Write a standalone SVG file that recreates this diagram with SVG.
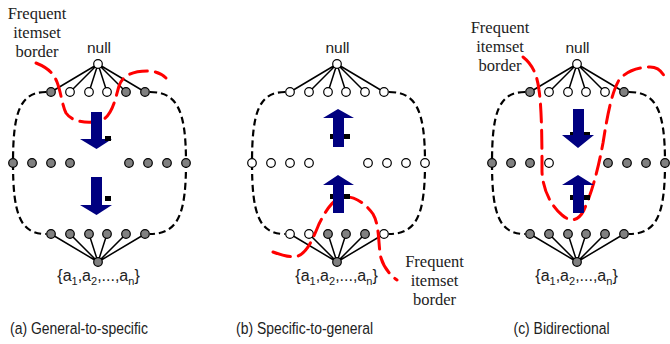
<svg xmlns="http://www.w3.org/2000/svg" width="670" height="344" viewBox="0 0 670 344">
<defs>
<style>
.edge{stroke:#000;stroke-width:1.5;fill:none}
.hull{stroke:#000;stroke-width:2.2;fill:none;stroke-dasharray:7 4}
.border{stroke:#f00;stroke-width:3;fill:none;stroke-dasharray:18 8;stroke-linecap:round}
.g{fill:#808080;stroke:#000;stroke-width:1.2}
.w{fill:#fff;stroke:#000;stroke-width:1.2}
.arrow{fill:#000080}
.bar{fill:#000}
.sans{font-family:"Liberation Sans",Arial,sans-serif;fill:#222;text-anchor:middle}
.cap{font-family:"Liberation Sans",Arial,sans-serif;fill:#222;text-anchor:middle;font-size:17px}
.serif{font-family:"Liberation Serif","Times New Roman",serif;font-size:16.5px;fill:#222;text-anchor:middle}
</style>
</defs>
<rect width="670" height="344" fill="#fff"/>

<!-- Panel (a) -->
<g id="panel-a">
<g id="a-connectors">
<path class="edge" d="M98,64 L51,92 M98,64 L70,92 M98,64 L89,92 M98,64 L107,92 M98,64 L126,92 M98,64 L145,92"/>
<path class="edge" d="M98,262 L51,234 M98,262 L70,234 M98,262 L89,234 M98,262 L107,234 M98,262 L126,234 M98,262 L145,234"/>
<path class="hull" d="M46,92 C20,92 13,112 13,163 C13,214 20,234 46,234"/>
<path class="hull" d="M150,92 C178,92 186,112 186,163 C186,214 178,234 150,234"/>
</g>
<g id="a-null"><circle class="w" cx="98" cy="64" r="4.3"/></g>
<g id="a-top">
<circle class="g" cx="51" cy="92" r="4.3"/><circle class="w" cx="70" cy="92" r="4.3"/><circle class="w" cx="89" cy="92" r="4.3"/><circle class="w" cx="107" cy="92" r="4.3"/><circle class="g" cx="126" cy="92" r="4.3"/><circle class="g" cx="145" cy="92" r="4.3"/>
</g>
<g id="a-mid">
<circle class="g" cx="13" cy="163" r="4.3"/><circle class="g" cx="32" cy="163" r="4.3"/><circle class="g" cx="51" cy="163" r="4.3"/><circle class="g" cx="70" cy="163" r="4.3"/>
<circle class="g" cx="129" cy="163" r="4.3"/><circle class="g" cx="148" cy="163" r="4.3"/><circle class="g" cx="167" cy="163" r="4.3"/><circle class="g" cx="186" cy="163" r="4.3"/>
</g>
<g id="a-bottom">
<circle class="g" cx="51" cy="234" r="4.3"/><circle class="g" cx="70" cy="234" r="4.3"/><circle class="g" cx="89" cy="234" r="4.3"/><circle class="g" cx="107" cy="234" r="4.3"/><circle class="g" cx="126" cy="234" r="4.3"/><circle class="g" cx="145" cy="234" r="4.3"/>
</g>
<g id="a-root"><circle class="g" cx="98" cy="262" r="4.3"/></g>
<g id="a-border"><path class="border" d="M36,63 C46,67 53,72 57,82 C61,92 62,105 66,113 C72,122 88,124 100,121 C112,117 115,100 119,86 C123,74 135,71 148,71 C156,71 162,74 166,78"/></g>
<g id="a-arrows">
<rect class="arrow" x="91" y="112" width="11" height="27"/><polygon class="arrow" points="80,139 112,139 96.5,149"/>
<rect class="bar" x="105" y="136" width="6" height="5"/>
<rect class="arrow" x="91" y="177" width="11" height="28"/><polygon class="arrow" points="80,205 112,205 96.5,215"/>
<rect class="bar" x="105" y="196" width="6" height="5"/>
</g>
<g id="a-labels">
<text class="serif" x="37" y="19">Frequent</text>
<text class="serif" x="37" y="38">itemset</text>
<text class="serif" x="37" y="57">border</text>
<text class="sans" x="99" y="53" font-size="15.5">null</text>
<text class="sans" x="98.5" y="281" font-size="16">{a<tspan font-size="11" dy="4">1</tspan><tspan dy="-4">,a</tspan><tspan font-size="11" dy="4">2</tspan><tspan dy="-4">,...,a</tspan><tspan font-size="11" dy="4">n</tspan><tspan dy="-4">}</tspan></text>
<text class="cap" transform="translate(79,334) scale(0.82,1)">(a) General-to-specific</text>
</g>
</g>

<!-- Panel (b) -->
<g id="panel-b">
<g id="b-connectors">
<path class="edge" d="M337,64 L290,92 M337,64 L309,92 M337,64 L328,92 M337,64 L346,92 M337,64 L365,92 M337,64 L384,92"/>
<path class="edge" d="M337,262 L290,234 M337,262 L309,234 M337,262 L328,234 M337,262 L346,234 M337,262 L365,234 M337,262 L384,234"/>
<path class="hull" d="M285,92 C259,92 252,112 252,163 C252,214 259,234 285,234"/>
<path class="hull" d="M389,92 C417,92 425,112 425,163 C425,214 417,234 389,234"/>
</g>
<g id="b-null"><circle class="w" cx="337" cy="64" r="4.3"/></g>
<g id="b-top">
<circle class="w" cx="290" cy="92" r="4.3"/><circle class="w" cx="309" cy="92" r="4.3"/><circle class="w" cx="328" cy="92" r="4.3"/><circle class="w" cx="346" cy="92" r="4.3"/><circle class="w" cx="365" cy="92" r="4.3"/><circle class="w" cx="384" cy="92" r="4.3"/>
</g>
<g id="b-mid">
<circle class="w" cx="252" cy="163" r="4.3"/><circle class="w" cx="271" cy="163" r="4.3"/><circle class="w" cx="290" cy="163" r="4.3"/><circle class="w" cx="309" cy="163" r="4.3"/>
<circle class="w" cx="368" cy="163" r="4.3"/><circle class="w" cx="387" cy="163" r="4.3"/><circle class="w" cx="406" cy="163" r="4.3"/><circle class="w" cx="425" cy="163" r="4.3"/>
</g>
<g id="b-bottom">
<circle class="w" cx="290" cy="234" r="4.3"/><circle class="w" cx="309" cy="234" r="4.3"/><circle class="g" cx="328" cy="234" r="4.3"/><circle class="g" cx="346" cy="234" r="4.3"/><circle class="g" cx="365" cy="234" r="4.3"/><circle class="w" cx="384" cy="234" r="4.3"/>
</g>
<g id="b-root"><circle class="g" cx="337" cy="262" r="4.3"/></g>
<g id="b-border"><path class="border" d="M273,252 C281,255 290,258 298,256 C308,252 314,236 319,224 C325,212 332,200 342,197 C354,195 366,204 373,214 C380,226 378,246 381,258 C384,268 391,276 397,280"/></g>
<g id="b-arrows">
<rect class="bar" x="330" y="134" width="20" height="5"/>
<polygon class="arrow" points="338,109 354,118 344,118 344,147 333,147 333,118 323,118"/>
<rect class="bar" x="330" y="194" width="20" height="5"/>
<polygon class="arrow" points="338,175 354,185 344,185 344,213 333,213 333,185 323,185"/>
</g>
<g id="b-labels">
<text class="sans" x="337.5" y="53" font-size="15.5">null</text>
<text class="sans" x="336.5" y="281" font-size="16">{a<tspan font-size="11" dy="4">1</tspan><tspan dy="-4">,a</tspan><tspan font-size="11" dy="4">2</tspan><tspan dy="-4">,...,a</tspan><tspan font-size="11" dy="4">n</tspan><tspan dy="-4">}</tspan></text>
<text class="serif" x="434.5" y="267">Frequent</text>
<text class="serif" x="434.5" y="286">itemset</text>
<text class="serif" x="434.5" y="305">border</text>
<text class="cap" transform="translate(304.5,334) scale(0.82,1)">(b) Specific-to-general</text>
</g>
</g>

<!-- Panel (c) -->
<g id="panel-c">
<g id="c-connectors">
<path class="edge" d="M577,64 L530,92 M577,64 L549,92 M577,64 L568,92 M577,64 L586,92 M577,64 L605,92 M577,64 L624,92"/>
<path class="edge" d="M577,262 L530,234 M577,262 L549,234 M577,262 L568,234 M577,262 L586,234 M577,262 L605,234 M577,262 L624,234"/>
<path class="hull" d="M525,92 C499,92 492,112 492,163 C492,214 499,234 525,234"/>
<path class="hull" d="M629,92 C657,92 665,112 665,163 C665,214 657,234 629,234"/>
</g>
<g id="c-null"><circle class="w" cx="577" cy="64" r="4.3"/></g>
<g id="c-top">
<circle class="g" cx="530" cy="92" r="4.3"/><circle class="w" cx="549" cy="92" r="4.3"/><circle class="w" cx="568" cy="92" r="4.3"/><circle class="w" cx="586" cy="92" r="4.3"/><circle class="w" cx="605" cy="92" r="4.3"/><circle class="g" cx="624" cy="92" r="4.3"/>
</g>
<g id="c-mid">
<circle class="g" cx="492" cy="163" r="4.3"/><circle class="g" cx="511" cy="163" r="4.3"/><circle class="g" cx="530" cy="163" r="4.3"/><circle class="w" cx="549" cy="163" r="4.3"/>
<circle class="g" cx="608" cy="163" r="4.3"/><circle class="g" cx="627" cy="163" r="4.3"/><circle class="g" cx="646" cy="163" r="4.3"/><circle class="g" cx="665" cy="163" r="4.3"/>
</g>
<g id="c-bottom">
<circle class="g" cx="530" cy="234" r="4.3"/><circle class="g" cx="549" cy="234" r="4.3"/><circle class="g" cx="568" cy="234" r="4.3"/><circle class="g" cx="586" cy="234" r="4.3"/><circle class="g" cx="605" cy="234" r="4.3"/><circle class="g" cx="624" cy="234" r="4.3"/>
</g>
<g id="c-root"><circle class="g" cx="577" cy="262" r="4.3"/></g>
<g id="c-border"><path class="border" d="M523,57 C532,64 537,74 539,90 C542,110 542,150 542,172 C543,190 551,206 562,215 C570,222 578,222 584,210 C592,192 598,170 603,143 C607,118 611,94 619,80 C627,70 640,67 650,67 C658,67 663,72 666,80"/></g>
<g id="c-arrows">
<rect class="bar" x="570" y="132" width="20" height="5"/>
<polygon class="arrow" points="573,109 584,109 584,135 594,135 578,148 562,135 573,135"/>
<rect class="bar" x="570" y="195" width="20" height="5"/>
<polygon class="arrow" points="578,175 594,185 584,185 584,213 573,213 573,185 562,185"/>
</g>
<g id="c-labels">
<text class="serif" x="500" y="33">Frequent</text>
<text class="serif" x="500" y="52">itemset</text>
<text class="serif" x="500" y="71">border</text>
<text class="sans" x="577.5" y="53" font-size="15.5">null</text>
<text class="sans" x="576.5" y="281" font-size="16">{a<tspan font-size="11" dy="4">1</tspan><tspan dy="-4">,a</tspan><tspan font-size="11" dy="4">2</tspan><tspan dy="-4">,...,a</tspan><tspan font-size="11" dy="4">n</tspan><tspan dy="-4">}</tspan></text>
<text class="cap" transform="translate(561.5,334) scale(0.82,1)">(c) Bidirectional</text>
</g>
</g>
</svg>
